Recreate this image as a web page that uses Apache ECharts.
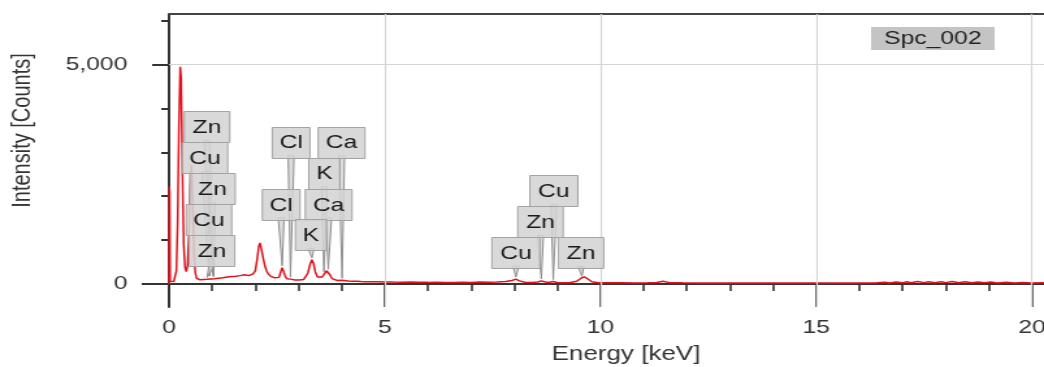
<!DOCTYPE html>
<html>
<head>
<meta charset="utf-8">
<script src="https://cdn.jsdelivr.net/npm/echarts@6/dist/echarts.min.js"></script>
<style>
html,body{margin:0;padding:0;background:#fff;overflow:hidden;}
/* the reference picture is horizontally stretched (~1.3x); reproduce that stretch */
#chart{width:803px;height:367px;transform:scaleX(1.30012);transform-origin:0 0;}
</style>
</head>
<body>
<div id="chart"></div>
<script>
// ---- data ----
const seriesName = 'Spc_002';
const energyKeV = [
  0.00,0.005,0.015,0.025,0.05,0.08,0.11,0.14,0.17,0.20,0.23,0.26,0.28,0.31,0.34,0.37,0.40,0.43,0.46,0.49,
  0.52,0.55,0.58,0.61,0.64,0.68,0.72,0.76,0.80,0.84,0.88,0.93,0.97,1.01,1.05,1.10,1.15,1.20,1.25,1.30,
  1.35,1.40,1.45,1.50,1.55,1.60,1.65,1.70,1.75,1.80,1.85,1.90,1.95,2.00,2.04,2.08,2.11,2.14,2.18,2.22,
  2.26,2.30,2.35,2.40,2.45,2.50,2.55,2.59,2.62,2.65,2.69,2.73,2.78,2.82,2.87,2.92,2.97,3.02,3.07,3.12,
  3.17,3.22,3.27,3.31,3.35,3.39,3.44,3.50,3.55,3.60,3.65,3.69,3.73,3.78,3.84,3.90,3.96,4.01,4.07,4.15,
  4.25,4.35,4.45,4.55,4.70,4.85,5.00,5.20,5.40,5.60,5.80,6.00,6.20,6.40,6.60,6.80,7.00,7.20,7.40,7.60,
  7.80,7.95,8.04,8.12,8.25,8.40,8.55,8.63,8.70,8.80,8.90,9.00,9.15,9.30,9.45,9.55,9.62,9.70,9.80,9.95,
  10.2,10.5,10.8,11.1,11.3,11.45,11.6,11.9,12.2,12.5,12.8,13.1,13.4,13.7,14.0,14.3,14.6,14.9,15.2,15.5,
  15.8,16.1,16.4,16.6,16.7,16.85,17.0,17.1,17.2,17.35,17.5,17.6,17.75,17.9,18.0,18.15,18.3,18.45,18.6,18.75,
  18.9,19.05,19.2,19.4,19.6,19.8,20.0,20.3
];
const counts = [
  0,2220,2100,60,45,50,55,80,300,1400,3600,4950,4700,2600,900,380,280,420,1100,2200,
  2720,1900,700,250,130,100,95,110,100,120,105,140,115,150,120,105,130,115,140,125,
  160,140,170,150,175,160,190,175,210,230,190,200,230,300,550,860,935,800,600,420,
  300,230,180,160,140,130,150,280,370,300,180,120,100,110,95,90,85,90,85,100,
  130,250,450,550,470,280,160,130,160,230,300,290,210,120,90,80,75,85,70,65,
  60,62,55,52,50,48,45,42,40,44,38,36,40,35,33,37,34,42,38,45,
  55,80,110,70,40,35,45,70,50,35,55,35,30,32,60,130,160,120,50,30,
  25,28,24,26,35,60,30,25,22,24,20,22,20,23,20,22,19,21,20,22,
  24,20,26,40,22,45,25,50,28,55,30,48,26,52,30,55,28,50,30,45,
  25,42,24,38,22,35,20,25
];
// element line markers
const peakElements = ['Zn','Cu','Zn','Cu','Zn','Cl','Ca','K','Cl','Ca','K','Cu','Zn','Cu','Zn'];
const peakEnergies = [1.012,0.930,1.034,0.949,0.884,2.815,4.012,3.590,2.622,3.691,3.313,8.905,8.630,8.040,9.570];
// axis ticks
const xMajorTicks = [0,5,10,15,20];
const xMinorTicks = [1,2,3,4,6,7,8,9,11,12,13,14,16,17,18,19];
const yMajorTicks = [0,5000];
const yMinorTicks = [1000,2000,3000,4000,6000];

// ---- layout (label box placement in axis units, box widths in px before stretch) ----
const boxCenterE = [0.88,0.834,1.008,0.927,0.997, 2.83,4.00,3.60,2.60,3.70,3.29, 8.92,8.61,8.04,9.55];
const boxCenterC = [3576,2870,2164,1458,752, 3230,3230,2523,1815,1815,1116, 2123,1416,719,708];
const boxWidthPx = [35,35,35,35,35, 29,36,24,29,36,24, 37,35,37,35];

const FONT = "'Liberation Sans', Arial, sans-serif";

function nearestCount(e){
  let best = 0, bd = Infinity;
  for (let i = 0; i < energyKeV.length; i++){
    const d = Math.abs(energyKeV[i] - e);
    if (d < bd){ bd = d; best = i; }
  }
  return counts[best];
}

const spectrum = energyKeV.map((e,i)=>[e, counts[i]]);
const markerData = peakElements.map((el,i)=>({
  name: el,
  value: [boxCenterE[i], boxCenterC[i], peakEnergies[i], nearestCount(peakEnergies[i])]
}));

const Y_MIN = -525, Y_MAX = 6150, X_MIN = 0, X_MAX = 20.28;
const axisColor = '#333';

const chart = echarts.init(document.getElementById('chart'), null, {renderer:'canvas'});
chart.setOption({
  animation: false,
  backgroundColor: '#fff',
  textStyle: {fontFamily: FONT},
  grid: {left: 130, right: 0, top: 14, bottom: 60, containLabel: false, outerBoundsMode: 'none'},
  legend: {
    data: [seriesName],
    left: 670, top: 27,
    backgroundColor: '#c4c4c4',
    padding: [2, 10, 2, 5],
    itemWidth: 0, itemHeight: 0, itemGap: 0,
    icon: 'rect',
    selectedMode: false,
    textStyle: {fontSize: 19, color: '#222', fontFamily: FONT}
  },
  xAxis: [
    {
      type: 'value', min: X_MIN, max: X_MAX, position: 'bottom',
      axisLine: {show: true, onZero: true, lineStyle: {color: axisColor, width: 2}},
      axisTick: {show: true, customValues: xMajorTicks, length: 23, lineStyle: {color: axisColor, width: 1.6}},
      axisLabel: {customValues: xMajorTicks, margin: 11, fontSize: 19, color: '#333', fontFamily: FONT},
      splitLine: {show: false},
      name: 'Energy [keV]', nameLocation: 'middle', nameGap: 37,
      nameTextStyle: {fontSize: 20, color: '#333', fontFamily: FONT, padding: [0,0,0,30]}
    },
    {
      type: 'value', min: X_MIN, max: X_MAX, position: 'bottom',
      axisLine: {show: false, onZero: true},
      axisTick: {show: true, customValues: xMinorTicks, length: 7, lineStyle: {color: axisColor, width: 1.6}},
      axisLabel: {show: false}, splitLine: {show: false}
    },
    {
      type: 'value', min: X_MIN, max: X_MAX, position: 'top',
      axisLine: {show: true, onZero: false, lineStyle: {color: '#444', width: 2}},
      axisTick: {show: false}, axisLabel: {show: false}, splitLine: {show: false}
    }
  ],
  yAxis: [
    {
      type: 'value', min: Y_MIN, max: Y_MAX, position: 'left',
      axisLine: {show: true, onZero: false, lineStyle: {color: axisColor, width: 2}},
      axisTick: {show: true, customValues: [5000], length: 13, lineStyle: {color: axisColor, width: 2}},
      axisLabel: {customValues: yMajorTicks, margin: 32, fontSize: 19, color: '#333', fontFamily: FONT,
        formatter: v => Number(v).toLocaleString('en-US')},
      splitLine: {show: false},
      name: 'Intensity [Counts]', nameLocation: 'middle', nameRotate: 90, nameGap: 103,
      nameTextStyle: {fontSize: 20, color: '#333', fontFamily: FONT, padding: [0,0,0,60]}
    },
    {
      type: 'value', min: Y_MIN, max: Y_MAX, position: 'left',
      axisLine: {show: false, onZero: false},
      axisTick: {show: true, customValues: yMinorTicks, length: 6, lineStyle: {color: axisColor, width: 2}},
      axisLabel: {show: false}, splitLine: {show: false}
    },
    {
      type: 'value', min: Y_MIN, max: Y_MAX, position: 'left',
      axisLine: {show: false, onZero: false},
      axisTick: {show: true, customValues: [0], length: 21, lineStyle: {color: axisColor, width: 2}},
      axisLabel: {show: false}, splitLine: {show: false}
    }
  ],
  series: [
    {
      name: 'gridlines', type: 'line', data: [], z: 1, silent: true,
      markLine: {
        silent: true, symbol: ['none','none'], label: {show: false},
        lineStyle: {color: '#d6d6d6', width: 1.2, type: 'solid'},
        data: [{xAxis: 5},{xAxis: 10},{xAxis: 15},{xAxis: 20},{yAxis: 5000}]
      }
    },
    {
      name: seriesName, type: 'line', data: spectrum, z: 3,
      showSymbol: false, symbol: 'none', smooth: false,
      lineStyle: {color: '#e1121c', width: 1.5},
      itemStyle: {color: '#e1121c'}
    },
    {
      name: 'markers', type: 'custom', z: 5, clip: false,
      data: markerData,
      encode: {x: [0,2], y: [1,3]},
      renderItem: function(params, api){
        const i = params.dataIndex;
        const b = api.coord([api.value(0), api.value(1)]);
        const t = api.coord([api.value(2), api.value(3)]);
        const w = boxWidthPx[i], h = 31;
        const bottom = b[1] + h/2;
        return {
          type: 'group',
          children: [
            {type: 'polygon', shape: {points: [[b[0]-2.3, bottom-2],[b[0]+2.3, bottom-2],[t[0], t[1]-2]]},
             style: {fill: 'rgba(214,214,214,0.85)', stroke: '#8f8f8f', lineWidth: 1}},
            {type: 'rect', shape: {x: b[0]-w/2, y: Math.round(b[1]-h/2)+0.5, width: w, height: h},
             style: {fill: 'rgba(212,212,212,0.88)', stroke: '#a3a3a3', lineWidth: 1}},
            {type: 'text', style: {x: b[0], y: b[1]+1, text: peakElements[i], align: 'center', verticalAlign: 'middle',
             fontSize: 19, fontFamily: FONT, fill: '#1a1a1a'}}
          ]
        };
      }
    }
  ]
});
</script>
</body>
</html>
